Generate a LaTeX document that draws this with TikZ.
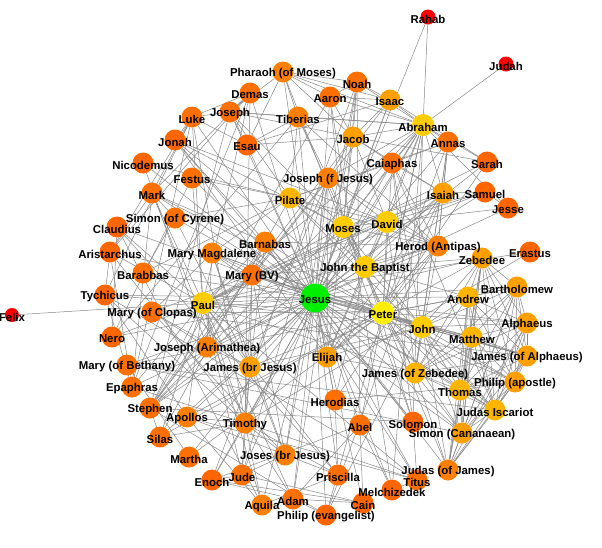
\documentclass[tikz,border=0pt]{standalone}
\usepackage{fontspec}
\setmainfont{Liberation Sans}
\pgfdeclarelayer{bg}
\pgfsetlayers{bg,main}
\definecolor{cr}{HTML}{FF0000}
\definecolor{oa}{HTML}{FF6600}
\definecolor{ob}{HTML}{FF7000}
\definecolor{oc}{HTML}{FF8000}
\definecolor{od}{HTML}{FFA000}
\definecolor{oe}{HTML}{FFB400}
\definecolor{of}{HTML}{FFCC00}
\definecolor{yl}{HTML}{FFEE00}
\definecolor{gr}{HTML}{00EE00}
\definecolor{edgegray}{HTML}{888888}
\begin{document}
\begin{tikzpicture}[x=1pt,y=-1pt,
  nd/.style={circle,inner sep=0pt,draw=none},
  lbl/.style={inner sep=0pt,font=\bfseries\fontsize{11.4}{12}\selectfont},
  edge/.style={draw=edgegray,line width=0.5pt}]
\useasboundingbox (0,0) rectangle (602,547);
\foreach \id/\x/\y/\c/\s in {
 rahab/428/17/cr/15, judah/506/64/cr/15,
 pharaoh/283/72/oc/21, noah/357/82/ob/21,
 aaron/330/97/ob/21, isaac/390/100/od/21,
 abraham/423/125/of/22, demas/250/93/ob/21,
 joseph/230/112/ob/21, luke/192/117/ob/21,
 tiberias/298/117/oc/21, jonah/175/140/oa/21,
 esau/247/145/oa/21, jacob/353/137/od/21,
 annas/448/142/ob/21, nicodemus/143/163/oa/21,
 sarah/487/162/oa/21, caiaphas/392/163/ob/21,
 festus/192/178/ob/21, josephf/328/178/oc/21,
 pilate/290/198/oe/21, mark/152/193/ob/21,
 isaiah/443/193/od/21, samuel/485/192/oa/21,
 jesse/508/208/oa/21, simoncy/175/218/ob/21,
 claudius/117/227/oa/21, moses/343/227/of/22,
 david/387/222/of/22, barnabas/265/242/oc/21,
 herod/438/246/oc/21, aristarchus/110/252/oa/21,
 marymag/212/253/oc/21, erastus/530/252/oa/21,
 zebedee/482/258/od/21, johnb/365/267/of/22,
 barabbas/143/273/ob/21, marybv/252/275/ob/21,
 bartholomew/517/287/od/21, tychicus/105/295/oa/21,
 andrew/468/297/oe/21, jesus/315/298/gr/29,
 paul/203/303/of/22, felix/12/315/cr/14,
 peter/383/313/yl/23, maryclo/152/312/ob/21,
 john/422/327/of/22, alphaeus/527/323/od/21,
 matthew/472/337/oe/21, nero/112/337/oa/21,
 josepha/207/347/oc/21, jamesalph/527/356/od/21,
 elijah/327/357/od/21, marybeth/127/365/ob/21,
 jamesbr/250/367/od/21, jameszeb/415/373/oe/21,
 philipap/515/382/od/21, epaphras/132/387/ob/21,
 thomas/460/390/oe/21, herodias/335/400/ob/21,
 stephen/150/408/ob/21, judasisc/495/410/oe/21,
 apollos/187/417/oc/21, timothy/245/423/oc/21,
 solomon/413/422/oa/21, abel/360/425/ob/21,
 simoncan/462/433/od/21, silas/160/437/ob/21,
 joses/285/455/oc/21, martha/189/457/ob/21,
 judasj/448/470/oc/21, priscilla/338/475/ob/21,
 jude/242/475/ob/21, enoch/212/480/oa/21,
 titus/417/480/ob/21, melchizedek/392/490/oa/21,
 adam/293/499/ob/21, aquila/262/505/oc/21,
 cain/363/503/oa/21, philipev/326/515/oa/21}
 {\node[nd,fill=\c,minimum size=\s pt] (\id) at (\x,\y) {};}
\foreach \id/\t in {
 rahab/Rahab, judah/Judah, pharaoh/Pharaoh (of Moses), noah/Noah, aaron/Aaron,
 isaac/Isaac, abraham/Abraham, demas/Demas, joseph/Joseph, luke/Luke,
 tiberias/Tiberias, jonah/Jonah, esau/Esau, jacob/Jacob, annas/Annas,
 nicodemus/Nicodemus, sarah/Sarah, caiaphas/Caiaphas, festus/Festus,
 josephf/Joseph (f Jesus), pilate/Pilate, mark/Mark, isaiah/Isaiah,
 samuel/Samuel, jesse/Jesse, simoncy/Simon (of Cyrene), claudius/Claudius,
 moses/Moses, david/David, barnabas/Barnabas, herod/Herod (Antipas),
 aristarchus/Aristarchus, marymag/Mary Magdalene, erastus/Erastus,
 zebedee/Zebedee, johnb/John the Baptist, barabbas/Barabbas, marybv/Mary (BV),
 bartholomew/Bartholomew, tychicus/Tychicus, andrew/Andrew, jesus/Jesus,
 paul/Paul, felix/Felix, peter/Peter, maryclo/Mary (of Clopas), john/John,
 alphaeus/Alphaeus, matthew/Matthew, nero/Nero, josepha/Joseph (Arimathea),
 jamesalph/James (of Alphaeus), elijah/Elijah, marybeth/Mary (of Bethany),
 jamesbr/James (br Jesus), jameszeb/James (of Zebedee), philipap/Philip (apostle),
 epaphras/Epaphras, thomas/Thomas, herodias/Herodias, stephen/Stephen,
 judasisc/Judas Iscariot, apollos/Apollos, timothy/Timothy, solomon/Solomon,
 abel/Abel, simoncan/Simon (Cananaean), silas/Silas, joses/Joses (br Jesus),
 martha/Martha, judasj/Judas (of James), priscilla/Priscilla, jude/Jude,
 enoch/Enoch, titus/Titus, melchizedek/Melchizedek, adam/Adam, aquila/Aquila,
 cain/Cain, philipev/Philip (evangelist)}
 {\node[lbl] (\id-l) at ([yshift=-2pt]\id.center) {\t};}
\begin{pgfonlayer}{bg}
\fill[white] (0,0) rectangle (602,547);
\foreach \b in {peter,john,andrew,jameszeb,philipap,bartholomew,thomas,matthew,jamesalph,judasisc,simoncan,judasj,zebedee,alphaeus,johnb,moses,david,abraham,isaac,jacob,elijah,isaiah,herod,herodias,pilate,caiaphas,annas,josephf,marybv,marymag,maryclo,marybeth,martha,josepha,nicodemus,barabbas,simoncy,jamesbr,joses,jude,jonah,noah,solomon,abel,adam,enoch,melchizedek,aaron,samuel,jesse,sarah,paul,barnabas,timothy,titus,luke,mark,tiberias,pharaoh,esau,joseph,apollos,silas,stephen,philipev,priscilla,aquila,festus,claudius,rahab,cain,demas,aristarchus,tychicus,epaphras,nero}
 {\draw[edge] (jesus) -- (\b);}
\foreach \a [count=\i] in {peter,andrew,john,jameszeb,philipap,bartholomew,thomas,matthew,jamesalph,judasisc,simoncan,judasj,alphaeus,zebedee}
 {\foreach \b [count=\j] in {peter,andrew,john,jameszeb,philipap,bartholomew,thomas,matthew,jamesalph,judasisc,simoncan,judasj,alphaeus,zebedee}
  {\ifnum\i<\j \draw[edge] (\a) -- (\b);\fi}}
\foreach \a/\b in {
 abraham/isaac, abraham/jacob, isaac/jacob, abraham/sarah, isaac/sarah, jacob/esau, isaac/esau,
 abraham/moses, abraham/david, abraham/noah, abraham/melchizedek, abraham/rahab, abraham/judah,
 abraham/pharaoh, abraham/aaron, abraham/paul, abraham/peter, abraham/johnb, abraham/isaiah,
 abraham/annas, abraham/caiaphas, abraham/stephen, abraham/jesse, abraham/solomon, abraham/enoch,
 abraham/abel, abraham/joseph, abraham/josephf, abraham/tiberias,
 moses/aaron, moses/pharaoh, moses/elijah, moses/david, moses/isaiah, moses/jacob, moses/isaac,
 moses/joseph, moses/stephen, moses/paul, moses/peter, moses/johnb, moses/noah, moses/samuel,
 moses/jonah, moses/solomon, moses/caiaphas, moses/john, moses/jameszeb, moses/herod, moses/pilate,
 aaron/pharaoh, aaron/jacob, aaron/melchizedek, aaron/noah, aaron/isaac,
 noah/enoch, noah/abel, noah/adam, noah/isaac, noah/jacob, noah/pharaoh,
 pharaoh/isaac, pharaoh/jacob, pharaoh/joseph, pharaoh/tiberias, pharaoh/esau,
 jacob/joseph, jacob/josephf, jacob/david, jacob/isaiah, jacob/caiaphas,
 david/solomon, david/jesse, david/samuel, david/isaiah, david/elijah, david/josephf, david/peter,
 david/paul, david/johnb, david/jonah, david/marybv, david/pilate, david/herod,
 samuel/jesse, samuel/isaiah, samuel/paul,
 isaiah/johnb, isaiah/elijah, isaiah/paul, isaiah/peter, isaiah/herod, isaiah/philipev,
 isaiah/caiaphas, isaiah/annas,
 elijah/johnb, elijah/peter, elijah/jameszeb, elijah/john, elijah/herod, elijah/herodias, elijah/jonah,
 abel/cain, abel/adam, cain/adam, abel/enoch, abel/melchizedek, adam/enoch, adam/paul, cain/jude,
 enoch/jude, cain/enoch,
 johnb/herod, johnb/herodias, herod/herodias, johnb/peter, johnb/andrew, johnb/john, johnb/pilate,
 johnb/zebedee, johnb/marybv, johnb/tiberias, johnb/josephf,
 herod/pilate, herod/caiaphas, herod/jameszeb, herod/peter, herod/paul, herod/barnabas,
 herod/tiberias, herod/annas,
 pilate/caiaphas, pilate/annas, pilate/barabbas, pilate/josepha, pilate/tiberias, pilate/simoncy,
 pilate/festus, pilate/nicodemus, pilate/marymag, pilate/judasisc, pilate/joseph,
 caiaphas/annas, caiaphas/peter, caiaphas/john, annas/john, annas/peter, caiaphas/judasisc,
 caiaphas/jameszeb, annas/jameszeb,
 josephf/marybv, josephf/jamesbr, josephf/joses, josephf/jude, josephf/herod, josephf/tiberias,
 josephf/elijah,
 marybv/jamesbr, marybv/joses, marybv/jude, marybv/john, marybv/marymag, marybv/maryclo,
 marybv/peter, marybv/jamesalph, marybv/barnabas,
 marymag/maryclo, marymag/josepha, marymag/peter, marymag/john, marymag/jamesbr, marymag/joses,
 marymag/simoncan,
 maryclo/josepha, maryclo/jamesalph, maryclo/jamesbr, maryclo/joses, maryclo/peter,
 marybeth/martha, marybeth/judasisc, marybeth/peter, marybeth/simoncan, martha/peter,
 josepha/nicodemus, josepha/jamesbr,
 simoncy/barabbas, simoncy/mark, simoncy/jamesbr,
 jamesbr/joses, jamesbr/jude, jamesbr/paul, jamesbr/peter, jamesbr/john, jamesbr/barnabas,
 jamesbr/timothy, joses/jude, joses/timothy,
 paul/barnabas, paul/timothy, paul/silas, paul/titus, paul/luke, paul/mark, paul/demas,
 paul/aristarchus, paul/tychicus, paul/epaphras, paul/apollos, paul/priscilla, paul/aquila,
 paul/festus, paul/felix, paul/nero, paul/erastus, paul/stephen, paul/peter, paul/john,
 paul/claudius, paul/jude, paul/jameszeb,
 timothy/silas, timothy/erastus, timothy/titus, timothy/luke, timothy/mark, timothy/demas,
 timothy/tychicus, timothy/epaphras, timothy/aristarchus, timothy/apollos, timothy/aquila,
 timothy/priscilla, timothy/adam,
 silas/barnabas, silas/peter, silas/stephen,
 barnabas/mark, barnabas/peter, barnabas/stephen, barnabas/titus,
 luke/demas, luke/mark, luke/aristarchus, luke/epaphras, luke/joseph, luke/jonah, luke/tychicus,
 demas/mark, demas/aristarchus, demas/epaphras, demas/joseph,
 mark/aristarchus, mark/peter, mark/epaphras,
 aristarchus/epaphras, aristarchus/tychicus, epaphras/tychicus,
 tychicus/apollos, titus/apollos, titus/tychicus,
 priscilla/aquila, priscilla/apollos, aquila/apollos, priscilla/claudius, aquila/claudius,
 apollos/peter, stephen/philipev, stephen/joseph, stephen/david, stephen/solomon, stephen/isaac,
 stephen/jacob, stephen/aaron,
 philipev/peter, philipev/john, philipev/adam,
 festus/nero, nero/claudius, nero/tiberias,
 tiberias/joseph, tiberias/esau,
 jonah/solomon, jonah/peter,
 esau/joseph, esau/luke,
 sarah/paul, sarah/peter, sarah/jacob,
 solomon/titus, solomon/johnb, melchizedek/titus,
 herodias/philipap, herodias/priscilla}
 {\draw[edge] (\a) -- (\b);}
\end{pgfonlayer}
\end{tikzpicture}
\end{document}
